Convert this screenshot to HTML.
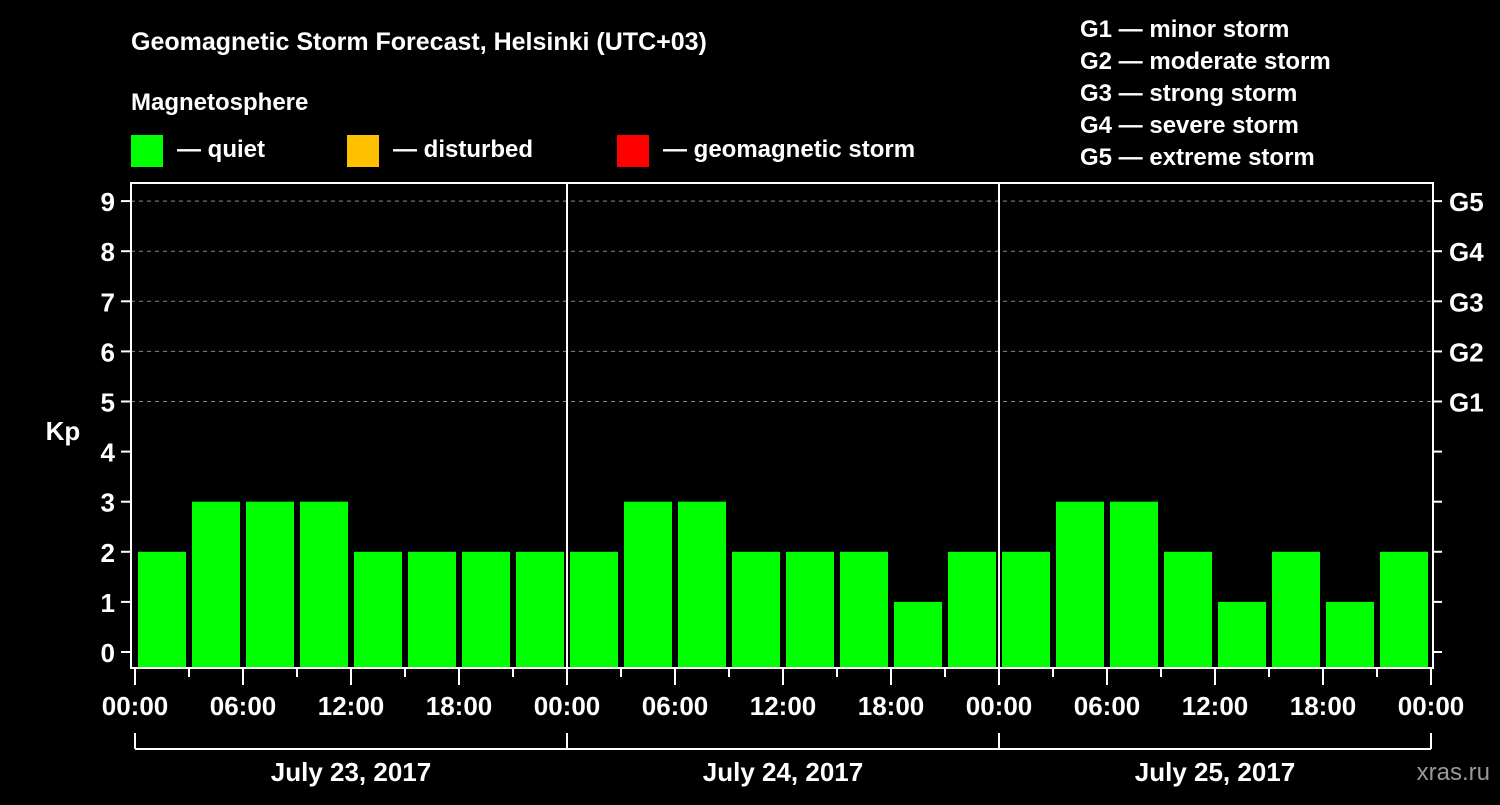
<!DOCTYPE html>
<html><head><meta charset="utf-8"><style>
body{margin:0;background:#000;width:1500px;height:800px;overflow:hidden}
svg text{font-family:"Liberation Sans",sans-serif;font-weight:bold;fill:#fff}
</style></head><body>
<svg id="c" width="1500" height="800" xmlns="http://www.w3.org/2000/svg">
<text x="131" y="50" font-size="25">Geomagnetic Storm Forecast, Helsinki (UTC+03)</text>
<text x="131" y="110" font-size="24">Magnetosphere</text>
<rect x="131" y="135" width="32" height="32" fill="#00ff00"/>
<text x="177" y="157" font-size="24">— quiet</text>
<rect x="347" y="135" width="32" height="32" fill="#ffc000"/>
<text x="393" y="157" font-size="24">— disturbed</text>
<rect x="617" y="135" width="32" height="32" fill="#ff0000"/>
<text x="663" y="157" font-size="24">— geomagnetic storm</text>
<g font-size="24">
<text x="1080" y="37">G1 — minor storm</text>
<text x="1080" y="69">G2 — moderate storm</text>
<text x="1080" y="101">G3 — strong storm</text>
<text x="1080" y="133">G4 — severe storm</text>
<text x="1080" y="165">G5 — extreme storm</text>
</g>
<text x="63" y="440" font-size="26" text-anchor="middle">Kp</text>
<text x="1490" y="780" font-size="24" text-anchor="end" fill="#888" style="fill:#999;font-weight:normal">xras.ru</text>
<g id="plot"></g>
</svg>
<script>
const kpValues=[2,3,3,3,2,2,2,2, 2,3,3,2,2,2,1,2, 2,3,3,2,1,2,1,2];
const dayLabels=["July 23, 2017","July 24, 2017","July 25, 2017"];
const hourLabels=["00:00","06:00","12:00","18:00"];
const gLabels=["G1","G2","G3","G4","G5"];
const NS="http://www.w3.org/2000/svg";
const g=document.getElementById('plot');
const X0=135,DAYW=432,L=131,R=1433,T=183,B=668;
const yS=v=>652-50.1*v;
const xS=h=>X0+h*DAYW/24;
function mk(t,a,p){const e=document.createElementNS(NS,t);for(const k in a)e.setAttribute(k,a[k]);(p||g).appendChild(e);return e;}
// grid
for(let v=5;v<=9;v++){const e=mk('line',{x1:L,x2:R,y1:yS(v),y2:yS(v),stroke:'#888','stroke-dasharray':'4,4','stroke-width':1});

}
// bars
kpValues.forEach((v,i)=>{const x=xS(i*3)+3;const e=mk('rect',{x:x,y:yS(v),width:48,height:B-yS(v),fill:v>=5?'#ff0000':(v>=4?'#ffc000':'#00ff00')});

});
// day separators
for(let d=1;d<dayLabels.length;d++){const e=mk('line',{x1:xS(24*d),x2:xS(24*d),y1:T,y2:B,stroke:'#fff','stroke-width':2});

}
// frame
const f=mk('rect',{x:L,y:T,width:R-L,height:B-T,fill:'none',stroke:'#fff','stroke-width':2});


// y ticks
for(let v=0;v<=9;v++){const y=yS(v);
mk('line',{x1:L-10,x2:L,y1:y,y2:y,stroke:'#fff','stroke-width':2});
mk('line',{x1:R,x2:R+9,y1:y,y2:y,stroke:'#fff','stroke-width':2});
const t=mk('text',{x:L-16,y:y+10,'font-size':26,'text-anchor':'end'});t.textContent=v;

}
gLabels.forEach((s,i)=>{const t=mk('text',{x:1449,y:yS(5+i)+10,'font-size':26});t.textContent=s;

});
// x ticks
const nd=dayLabels.length;
for(let h=0;h<=24*nd;h+=3){const x=xS(h);const major=h%6===0;
mk('line',{x1:x,x2:x,y1:B,y2:B+(major?17:9),stroke:'#fff','stroke-width':2});
if(major){const t=mk('text',{x:x,y:715,'font-size':26,'text-anchor':'middle'});t.textContent=hourLabels[(h%24)/6];

}}
// day bracket
mk('line',{x1:xS(0),x2:xS(24*nd),y1:749,y2:749,stroke:'#fff','stroke-width':2});
for(let d=0;d<=nd;d++)mk('line',{x1:xS(24*d),x2:xS(24*d),y1:733,y2:749,stroke:'#fff','stroke-width':2});
dayLabels.forEach((s,d)=>{const t=mk('text',{x:xS(24*d+12),y:781,'font-size':26,'text-anchor':'middle'});t.textContent=s;

});
</script>
</body></html>
